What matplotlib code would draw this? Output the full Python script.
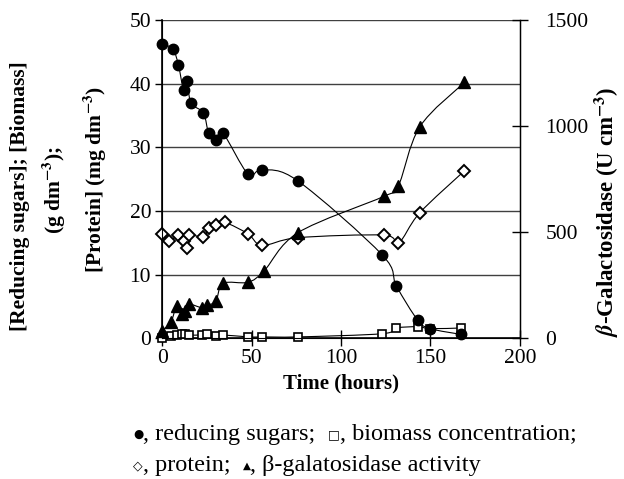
import matplotlib.pyplot as plt
from matplotlib.path import Path
from matplotlib.patches import PathPatch

# --- dados ---
t_acucar = [0, 6, 9, 12, 14, 16, 23, 26, 30, 34, 48, 56, 76, 123, 131, 143, 150, 167]
acucar = [46.3, 45.4, 43.0, 39.0, 40.5, 37.0, 35.4, 32.2, 31.2, 32.2, 25.8, 26.5, 24.7,
          13.1, 8.2, 2.8, 1.5, 0.6]

t_biomassa = [0, 5, 8, 11, 13, 15, 22, 25, 30, 34, 48, 56, 76, 123, 131, 143, 150, 167]
biomassa = [0.1, 0.3, 0.5, 0.7, 0.6, 0.5, 0.5, 0.7, 0.3, 0.5, 0.2, 0.2, 0.2,
            0.7, 1.6, 1.8, 1.5, 1.6]

t_proteina = [0, 4, 9, 12, 14, 15, 23, 26, 30, 35, 48, 56, 76, 124, 132, 144, 169]
proteina = [16.4, 15.3, 16.2, 15.2, 14.2, 16.2, 15.9, 17.3, 17.8, 18.2, 16.4, 14.6, 15.8,
            16.2, 14.9, 19.7, 26.3]

t_enzima = [0, 5, 8, 11, 13, 15, 22, 25, 30, 34, 48, 57, 76, 124, 132, 144, 169]
enzima = [36, 78, 152, 114, 126, 160, 144, 156, 174, 258, 264, 318, 498,
          669, 717, 996, 1206]

x_ticks = [0, 50, 100, 150, 200]
y_ticks = [0, 10, 20, 30, 40, 50]
y2_ticks = [0, 500, 1000, 1500]

serif = ['Liberation Serif', 'DejaVu Serif']
plt.rcParams['font.family'] = serif
plt.rcParams['mathtext.fontset'] = 'stix'


def curva(eixo, xs, ys):
    # linha suavizada (como no Excel) passando pelos pontos medidos
    n = len(xs)
    verts = [(xs[0], ys[0])]
    codes = [Path.MOVETO]
    for i in range(n - 1):
        a = max(i - 1, 0)
        b = min(i + 2, n - 1)
        c1 = (xs[i] + (xs[i + 1] - xs[a]) / 6, ys[i] + (ys[i + 1] - ys[a]) / 6)
        c2 = (xs[i + 1] - (xs[b] - xs[i]) / 6, ys[i + 1] - (ys[b] - ys[i]) / 6)
        verts += [c1, c2, (xs[i + 1], ys[i + 1])]
        codes += [Path.CURVE4] * 3
    eixo.add_patch(PathPatch(Path(verts, codes), fill=False, lw=0.8,
                             edgecolor='black', zorder=2, clip_on=False))


fig = plt.figure(figsize=(6.24, 4.79), dpi=100)
ax = fig.add_axes([0.260, 0.294, 0.573, 0.664])

for y in y_ticks[1:]:
    ax.axhline(y, color='0.25', lw=1.0, zorder=0)

estilo = dict(linestyle='none', markeredgecolor='black', clip_on=False)
curva(ax, t_acucar, acucar)
curva(ax, t_biomassa, biomassa)
curva(ax, t_proteina, proteina)
ax.plot(t_acucar, acucar, marker='o', ms=7.5, markerfacecolor='black', zorder=4, **estilo)
ax.plot(t_biomassa, biomassa, marker='s', ms=6, markerfacecolor='white',
        markeredgewidth=1.2, zorder=3, **estilo)
ax.plot(t_proteina, proteina, marker='D', ms=5.8, markerfacecolor='white',
        markeredgewidth=1.4, zorder=3, **estilo)

ax.set_xlim(0, 200)
ax.set_ylim(0, 50)
ax.set_xticks(x_ticks)
ax.set_yticks(y_ticks)
ax.tick_params(axis='x', direction='inout', length=11, width=1, labelsize=15.5, pad=2)
ax.tick_params(axis='y', direction='out', length=5, width=1, labelsize=15.5, pad=3)
ax.spines['top'].set_visible(False)
ax.spines['left'].set_linewidth(1.2)
ax.spines['bottom'].set_linewidth(1.2)
ax.spines['right'].set_linewidth(1.0)

ax2 = ax.twinx()
curva(ax2, t_enzima, enzima)
ax2.plot(t_enzima, enzima, marker='^', ms=8, markerfacecolor='black', zorder=4, **estilo)
ax2.set_ylim(0, 1500)
ax2.set_yticks(y2_ticks)
ax2.tick_params(axis='y', direction='inout', length=11, width=1, labelsize=15.5, pad=13)
ax2.spines['top'].set_visible(False)

ax.set_xlabel('Time (hours)', fontsize=15, fontweight='bold', labelpad=4)

# rotulos do eixo esquerdo (tres linhas)
fig.text(20 / 624, 1 - 196 / 479, '[Reducing sugars]; [Biomass]', rotation=90,
         ha='center', va='center', fontsize=15.5, fontweight='bold')
fig.text(54 / 624, 1 - 190 / 479, r'(g dm$^{\mathbf{-3}}$);', rotation=90,
         ha='center', va='center', fontsize=15.5, fontweight='bold')
fig.text(95 / 624, 1 - 179 / 479, r'[Protein] (mg dm$^{\mathbf{-3}}$)', rotation=90,
         ha='center', va='center', fontsize=15.5, fontweight='bold')
fig.text(607 / 624, 1 - 212 / 479, r'$\boldsymbol{\beta}$-Galactosidase (U cm$^{\mathbf{-3}}$)',
         rotation=90, ha='center', va='center', fontsize=16.5, fontweight='bold')

# legenda em texto (legenda da figura original), pecas encadeadas
simb = ['DejaVu Sans']
renderer = fig.canvas.get_renderer()


def linha(pecas, x0, y0):
    x = x0
    for texto, tam, fam, sobe in pecas:
        t = fig.text(x / 624, 1 - (y0 - sobe) / 479, texto, fontsize=tam, family=fam,
                     va='baseline')
        x += t.get_window_extent(renderer).width


linha([('\u25cf', 8.5, simb, 2), (', reducing sugars;  ', 17.5, serif, 0),
       ('\u25a1', 9, simb, 2), (', biomass concentration;', 17.5, serif, 0)], 133, 440)
linha([('\u25c7', 9, simb, 2), (', protein;  ', 17.5, serif, 0),
       ('\u25b2', 7.5, simb, 2), (', \u03b2-galatosidase activity', 17.5, serif, 0)], 133, 471)

plt.savefig('out.png', dpi=100)
